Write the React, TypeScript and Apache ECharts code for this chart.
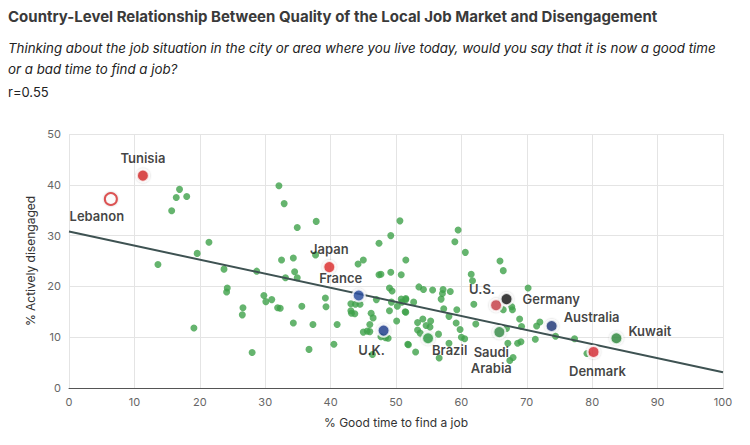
import React, { useEffect, useRef } from 'react';
import * as echarts from 'echarts';

// other countries: [good time %, actively disengaged %]
const otherCountries: [number, number][] = [
  [32.1, 39.8], [16.9, 39.1], [16.4, 37.5], [18.0, 37.7], [15.7, 34.9], [32.9, 36.3],
  [37.8, 32.8], [34.9, 31.6], [21.4, 28.7], [19.6, 26.5], [13.6, 24.3], [32.5, 25.2],
  [34.3, 25.6], [37.7, 26.2], [23.7, 23.4], [28.7, 23.0], [34.5, 22.9], [33.1, 21.7],
  [34.9, 21.7], [24.2, 19.7], [24.1, 18.9], [29.8, 18.2], [30.1, 17.0], [31.0, 17.4],
  [31.9, 15.8], [32.3, 15.7], [26.6, 15.8], [26.5, 14.4], [35.6, 16.1], [39.2, 17.7],
  [39.3, 16.0], [19.1, 11.8], [34.3, 12.8], [37.3, 12.5], [41.0, 12.5], [28.0, 7.0],
  [36.7, 7.6], [40.5, 8.6], [44.2, 24.4], [45.0, 25.2], [47.4, 22.3], [47.7, 22.4],
  [49.2, 22.8], [47.4, 28.5], [49.2, 30.0], [50.6, 32.9], [50.8, 22.3], [51.5, 25.2],
  [43.1, 16.6], [43.8, 16.5], [44.5, 16.5], [47.0, 17.4], [49.0, 19.7], [49.4, 19.1],
  [49.3, 16.9], [50.2, 16.1], [50.9, 16.9], [51.5, 17.4], [43.1, 15.2], [43.2, 14.7],
  [43.7, 14.6], [46.2, 14.7], [46.5, 13.8], [49.0, 15.2], [51.5, 14.9], [46.0, 12.5],
  [45.6, 11.2], [46.0, 11.1], [50.1, 13.2], [48.4, 9.9], [48.8, 9.8], [46.4, 6.6],
  [51.8, 8.6], [59.5, 31.1], [59.0, 28.8], [60.6, 26.7], [65.9, 25.0], [66.4, 23.1],
  [61.5, 22.4], [61.7, 21.1], [70.2, 19.7], [53.5, 19.9], [54.2, 19.4], [55.6, 19.3],
  [57.2, 19.4], [57.1, 18.6], [58.3, 19.0], [50.8, 17.5], [51.5, 17.6], [52.7, 16.9],
  [56.9, 17.5], [61.9, 16.5], [51.4, 15.0], [57.3, 15.6], [59.3, 15.4], [58.1, 14.1],
  [66.4, 15.4], [67.7, 16.0], [67.8, 15.4], [53.3, 12.9], [54.1, 13.6], [55.3, 13.2],
  [54.6, 12.3], [55.2, 12.0], [53.3, 11.4], [53.7, 10.8], [59.2, 12.8], [59.8, 11.5],
  [60.0, 10.0], [60.5, 9.7], [62.2, 12.6], [68.9, 13.6], [69.2, 12.1], [66.9, 11.7],
  [71.5, 12.2], [72.0, 13.0], [71.3, 9.6], [74.4, 10.2], [77.3, 9.7], [67.1, 8.8],
  [68.6, 8.8], [69.1, 9.1], [56.5, 10.6], [51.9, 8.5], [53.0, 7.1], [58.1, 8.8],
  [56.6, 5.9], [67.4, 5.4], [67.9, 6.0], [79.2, 6.8], [47.7, 10.1], [45.0, 11.0],
];

const namedCountries = ['Tunisia', 'Lebanon', 'Japan', 'France', 'U.K.', 'Brazil', 'Saudi\nArabia', 'U.S.', 'Germany', 'Australia', 'Kuwait', 'Denmark'];
const namedValues: [number, number][] = [
  [11.3, 41.8], [6.4, 37.2], [39.8, 23.8], [44.3, 18.2], [48.1, 11.3], [54.9, 9.8],
  [65.8, 11.0], [65.3, 16.3], [66.9, 17.5], [73.8, 12.2], [83.7, 9.8], [80.2, 7.1],
];
const flagColors = ['#d62d2d', '#ffffff', '#e0312f', '#2a4fa0', '#233f8f', '#2f9b45', '#3a8d4a', '#c9414a', '#1a1a1a', '#1f3a7a', '#2f8b3d', '#d8303a'];
const labelSpots: [string, number, number][] = [
  ['top', 0, 0], ['bottom', -14, -1], ['top', 0, 0], ['top', -18, 0], ['bottom', -12, 1], ['right', -6, 12],
  ['bottom', -8, 2], ['top', -14, 2], ['right', 6, 0], ['right', 2, -9], ['right', 2, -7], ['bottom', 4, 1],
];

const fitLine: [number, number][] = [[0, 30.8], [100, 3.1]];
const xTicks = { min: 0, max: 100, interval: 10 };
const yTicks = { min: 0, max: 50, interval: 10 };

const FONT = 'Inter, "Noto Sans", sans-serif';

const App: React.FC = () => {
  const chartRef = useRef<HTMLDivElement>(null);

  useEffect(() => {
    document.body.style.margin = '0';
    if (!chartRef.current) return;
    const chart = echarts.init(chartRef.current, undefined, { renderer: 'svg' });

    const option: echarts.EChartsOption = {
      animation: false,
      textStyle: { fontFamily: FONT },
      graphic: [
        { type: 'text', left: 8, top: 9, style: { text: 'Country-Level Relationship Between Quality of the Local Job Market and Disengagement', font: `bold 15px ${FONT}`, fill: '#3a3a3a' } },
        { type: 'text', left: 8, top: 37, style: { text: 'Thinking about the job situation in the city or area where you live today, would you say that it is now a good time\nor a bad time to find a job?', font: `italic 13.3px ${FONT}`, fill: '#222', lineHeight: 21 } },
        { type: 'text', left: 8, top: 85, style: { text: 'r=0.55', font: `13px ${FONT}`, fill: '#222' } },
      ],
      grid: { left: 69, right: 27, top: 134, bottom: 57 },
      xAxis: {
        type: 'value', ...xTicks,
        name: '% Good time to find a job', nameLocation: 'middle', nameGap: 28,
        nameTextStyle: { fontSize: 12, color: '#333' },
        axisLine: { lineStyle: { color: '#555' } },
        axisTick: { show: false },
        axisLabel: { color: '#666', fontSize: 11 },
        splitLine: { lineStyle: { color: '#e4e4e4' } },
      },
      yAxis: {
        type: 'value', ...yTicks,
        name: '% Actively disengaged', nameLocation: 'middle', nameGap: 32,
        nameTextStyle: { fontSize: 12, color: '#333' },
        axisLine: { show: false },
        axisTick: { show: false },
        axisLabel: { color: '#666', fontSize: 11 },
        splitLine: { lineStyle: { color: '#e4e4e4' } },
      },
      series: [
        {
          type: 'scatter', data: otherCountries, symbolSize: 7,
          itemStyle: { color: '#3ea14a' },
        },
        {
          type: 'line', data: fitLine, symbol: 'none',
          lineStyle: { color: '#3e5252', width: 2 },
        },
        {
          type: 'scatter', symbolSize: 12, z: 5,
          data: namedValues.map((v, i) => ({
            value: v,
            itemStyle: { color: flagColors[i], borderColor: i === 1 ? '#d62d2d' : '#fff', borderWidth: 2, shadowColor: 'rgba(0,0,0,0.25)', shadowBlur: 2 },
            label: {
              show: true, formatter: namedCountries[i], distance: 3,
              position: labelSpots[i][0] as any, offset: [labelSpots[i][1], labelSpots[i][2]],
              fontSize: 13, fontWeight: 600, color: '#111', lineHeight: 16,
            },
          })),
        },
      ],
    };

    chart.setOption(option);
    return () => chart.dispose();
  }, []);

  return <div ref={chartRef} style={{ width: 750, height: 445 }} />;
};

export default App;
